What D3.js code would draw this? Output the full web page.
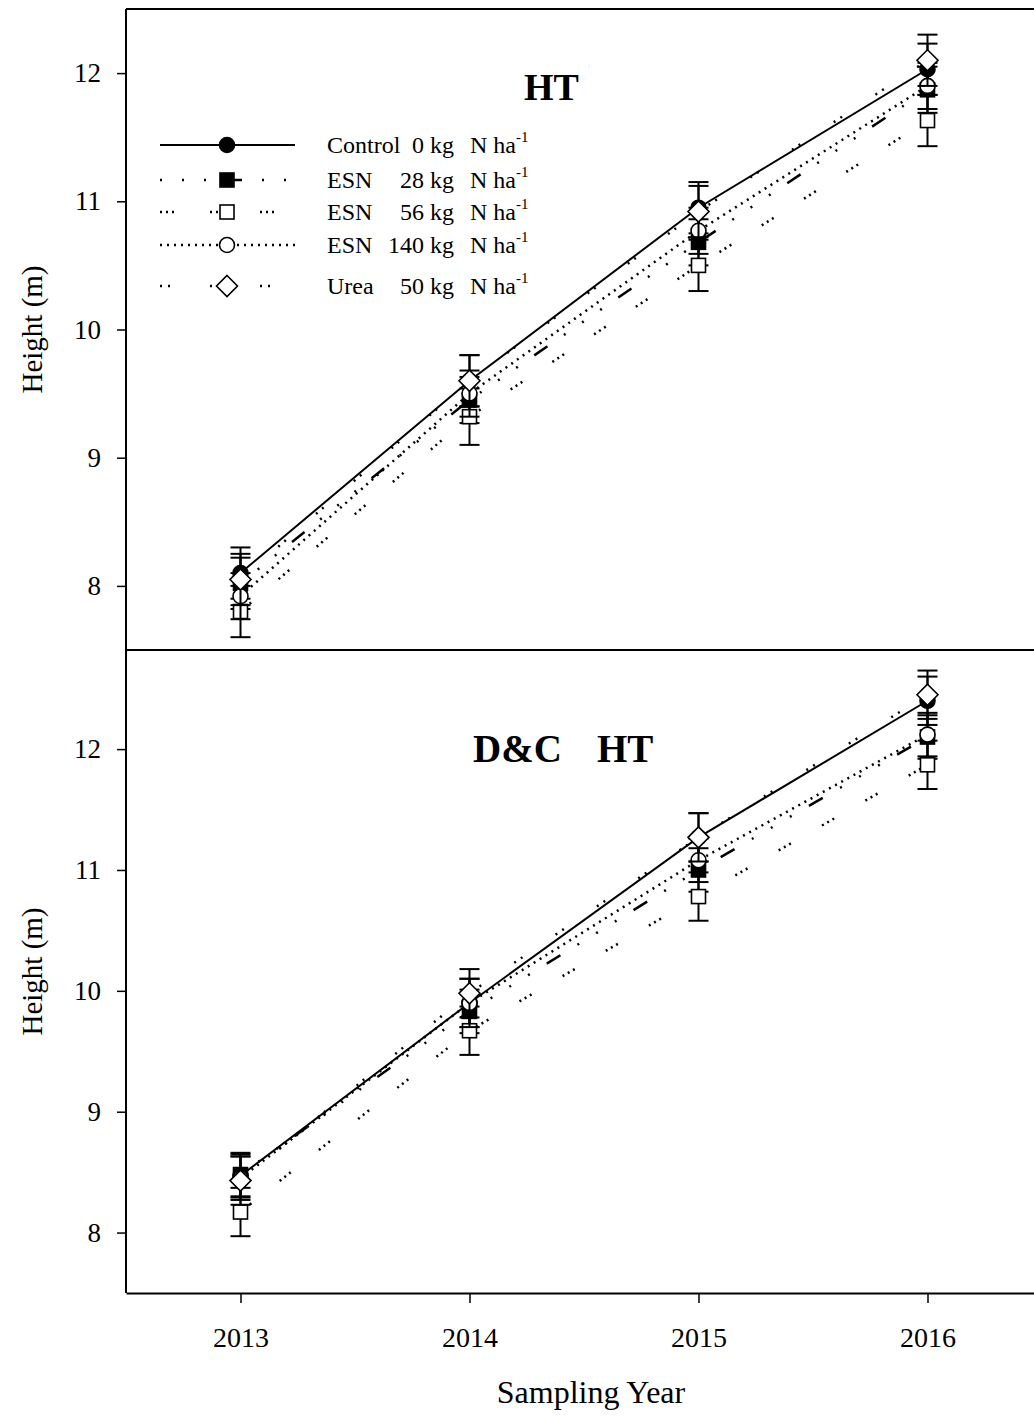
<!DOCTYPE html>
<html>
<head>
<meta http-equiv="Content-Type" content="text/html; charset=UTF-8">
<style>
body { margin: 0; background: #fff; }
svg text { font-family: "Liberation Serif", Times, "Times New Roman", serif; fill: #000; }
</style>
</head>
<body>
<svg width="1034" height="1416"></svg>
<script src="https://cdn.jsdelivr.net/npm/d3@7"></script>
<script>

// ---- data ----
var years = [2013, 2014, 2015, 2016];
var seriesNames = ["Control", "ESN28", "ESN56", "ESN140", "Urea"];
var legendLabels = [
  ["Control", "0 kg"],
  ["ESN", "28 kg"],
  ["ESN", "56 kg"],
  ["ESN", "140 kg"],
  ["Urea", "50 kg"]
];

// top panel (HT)
var htControl = [8.10, 9.60, 10.95, 12.03];
var htESN28   = [8.02, 9.45, 10.68, 11.87];
var htESN56   = [7.80, 9.32, 10.50, 11.63];
var htESN140  = [7.92, 9.50, 10.77, 11.90];
var htUrea    = [8.05, 9.60, 10.92, 12.10];
var htErrControl = [0.20, 0.20, 0.20, 0.20];
var htErrESN28   = [0.20, 0.18, 0.18, 0.18];
var htErrESN56   = [0.20, 0.22, 0.20, 0.20];
var htErrESN140  = [0.18, 0.18, 0.18, 0.18];
var htErrUrea    = [0.20, 0.20, 0.20, 0.20];

// bottom panel (D&C HT)
var dcControl = [8.47, 9.90, 11.27, 12.40];
var dcESN28   = [8.48, 9.83, 11.00, 12.10];
var dcESN56   = [8.17, 9.67, 10.78, 11.87];
var dcESN140  = [8.45, 9.90, 11.08, 12.12];
var dcUrea    = [8.43, 9.98, 11.27, 12.45];
var dcErrControl = [0.18, 0.20, 0.20, 0.20];
var dcErrESN28   = [0.18, 0.18, 0.18, 0.18];
var dcErrESN56   = [0.20, 0.20, 0.20, 0.20];
var dcErrESN140  = [0.18, 0.20, 0.18, 0.18];
var dcErrUrea    = [0.20, 0.20, 0.20, 0.20];

var yTicks = [8, 9, 10, 11, 12];

// ---- styles ----
var styles = {
  Control: { dash: null, shape: "circle", fill: "#000" },
  ESN28:   { dash: "2,20,2,20,2,20,16,20", shape: "square", fill: "#000" },
  ESN56:   { dash: "2,4,2,4,2,36", shape: "square", fill: "#fff" },
  ESN140:  { dash: "2,5", shape: "circle", fill: "#fff" },
  Urea:    { dash: "2,6,2,40", shape: "diamond", fill: "#fff" }
};

var svg = d3.select("svg");
var left = 126, right = 1042;

var x = d3.scaleLinear().domain([2012.5, 2016.5]).range([left, right]);

var panels = [
  { title: ["HT"], titleX: [524], titleY: 100, size: 38, top: 9, bottom: 650, domain: [7.5, 12.5],
    values: [htControl, htESN28, htESN56, htESN140, htUrea],
    errs: [htErrControl, htErrESN28, htErrESN56, htErrESN140, htErrUrea], legend: true },
  { title: ["D&C", "HT"], titleX: [473, 597], titleY: 762, size: 39, top: 650, bottom: 1293, domain: [7.5, 12.82],
    values: [dcControl, dcESN28, dcESN56, dcESN140, dcUrea],
    errs: [dcErrControl, dcErrESN28, dcErrESN56, dcErrESN140, dcErrUrea], legend: false }
];

function marker(g, shape, cx, cy, fill) {
  if (shape === "circle") {
    g.append("circle").attr("cx", cx).attr("cy", cy).attr("r", 7.5)
      .attr("fill", fill).attr("stroke", "#000").attr("stroke-width", 1.6);
  } else if (shape === "square") {
    g.append("rect").attr("x", cx - 7).attr("y", cy - 7).attr("width", 14).attr("height", 14)
      .attr("fill", fill).attr("stroke", "#000").attr("stroke-width", 1.6);
  } else {
    var s = 10.5;
    g.append("path").attr("d", "M" + cx + "," + (cy - s) + "L" + (cx + s) + "," + cy +
        "L" + cx + "," + (cy + s) + "L" + (cx - s) + "," + cy + "Z")
      .attr("fill", fill).attr("stroke", "#000").attr("stroke-width", 1.6);
  }
}

panels.forEach(function(p) {
  var y = d3.scaleLinear().domain(p.domain).range([p.bottom, p.top]);
  var g = svg.append("g");

  // y axis
  g.append("g")
    .attr("transform", "translate(" + left + ",0)")
    .call(d3.axisLeft(y).tickValues(yTicks).tickSize(9).tickPadding(16).tickFormat(d3.format("d")))
    .call(function(a) {
      a.attr("font-family", null).attr("font-size", null);
      a.select(".domain").remove();
      a.selectAll("line").attr("stroke", "#000").attr("stroke-width", 1.5);
      a.selectAll("text").style("font-size", "27px");
    });

  var line = d3.line()
    .x(function(d, i) { return x(years[i]); })
    .y(function(d) { return y(d); });

  // connecting lines
  p.values.forEach(function(vals, si) {
    var st = styles[seriesNames[si]];
    g.append("path")
      .attr("d", line(vals))
      .attr("fill", "none")
      .attr("stroke", "#000")
      .attr("stroke-width", st.dash ? 2.5 : 2)
      .attr("stroke-dasharray", st.dash);
  });

  // error bars and markers
  p.values.forEach(function(vals, si) {
    var st = styles[seriesNames[si]];
    var errs = p.errs[si];
    vals.forEach(function(v, i) {
      var cx = x(years[i]);
      var hi = y(v + errs[i]), lo = y(v - errs[i]);
      g.append("line").attr("x1", cx).attr("x2", cx).attr("y1", hi).attr("y2", lo)
        .attr("stroke", "#000").attr("stroke-width", 2);
      [hi, lo].forEach(function(yy) {
        g.append("line").attr("x1", cx - 10).attr("x2", cx + 10).attr("y1", yy).attr("y2", yy)
          .attr("stroke", "#000").attr("stroke-width", 2);
      });
    });
    vals.forEach(function(v, i) {
      marker(g, st.shape, x(years[i]), y(v), st.fill);
    });
  });

  // title
  p.title.forEach(function(t, k) {
    g.append("text").attr("x", p.titleX[k]).attr("y", p.titleY)
      .style("font-size", p.size + "px").style("font-weight", "bold").text(t);
  });

  // y label
  g.append("text")
    .attr("transform", "translate(42," + ((p.top + p.bottom) / 2) + ") rotate(-90)")
    .attr("text-anchor", "middle").style("font-size", "29px").text("Height (m)");

  // legend
  if (p.legend) {
    var rowsY = [145, 180, 212, 245, 286];
    seriesNames.forEach(function(name, si) {
      var st = styles[name];
      var ly = rowsY[si];
      g.append("line").attr("x1", 160).attr("x2", 295).attr("y1", ly).attr("y2", ly)
        .attr("stroke", "#000").attr("stroke-width", st.dash ? 2.5 : 2)
        .attr("stroke-dasharray", st.dash);
      marker(g, st.shape, 227, ly, st.fill);
      var t = g.append("text").attr("y", ly + 8).style("font-size", "24px");
      t.append("tspan").attr("x", 327).text(legendLabels[si][0]);
      t.append("tspan").attr("x", 454).attr("text-anchor", "end").text(legendLabels[si][1]);
      t.append("tspan").attr("x", 470).text("N ha");
      t.append("tspan").attr("dy", -11).style("font-size", "15px").text("-1");
    });
  }
});

// frame
var frame = svg.append("g").attr("stroke", "#000").attr("stroke-width", 2);
frame.append("line").attr("x1", left).attr("x2", right).attr("y1", 9).attr("y2", 9);
frame.append("line").attr("x1", left).attr("x2", left).attr("y1", 9).attr("y2", 1293);
frame.append("line").attr("x1", left).attr("x2", right).attr("y1", 650).attr("y2", 650);

// bottom x axis
svg.append("g")
  .attr("transform", "translate(0,1293)")
  .call(d3.axisBottom(x).tickValues(years).tickSize(10).tickSizeOuter(0).tickPadding(24).tickFormat(d3.format("d")))
  .call(function(a) {
    a.attr("font-family", null).attr("font-size", null);
    a.select(".domain").attr("stroke", "#000").attr("stroke-width", 2);
    a.selectAll("line").attr("stroke", "#000").attr("stroke-width", 1.5);
    a.selectAll("text").style("font-size", "28px");
  });

svg.append("text").attr("x", 591).attr("y", 1403).attr("text-anchor", "middle")
  .style("font-size", "32px").text("Sampling Year");

</script>
</body></html>
